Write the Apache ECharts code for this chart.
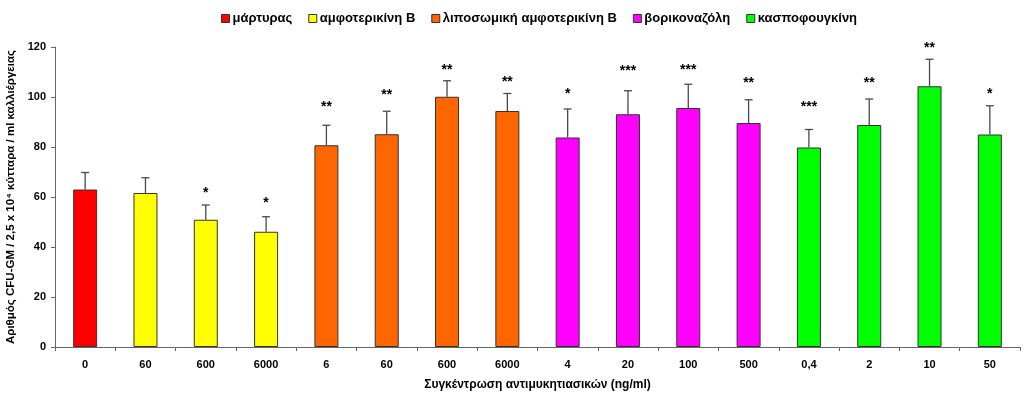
<!DOCTYPE html>
<html><head><meta charset="utf-8">
<script src="https://cdn.jsdelivr.net/npm/echarts@6/dist/echarts.min.js"></script>
<style>html,body{margin:0;padding:0;background:#fff}#c{width:1024px;height:394px}</style>
</head><body><div id="c"></div>
<script>
const categories = ['0','60','600','6000','6','60','600','6000','4','20','100','500','0,4','2','10','50'];
const groupNames = ['μάρτυρας','αμφοτερικίνη Β','λιποσωμική αμφοτερικίνη Β','βορικοναζόλη','κασποφουγκίνη'];
const groupColors = ['#FF0000','#FFFF00','#FF6600','#FF00FF','#00FF00'];
const groupOfBar = [0,1,1,1,2,2,2,2,3,3,3,3,4,4,4,4];
const means = [63.0,61.6,50.9,46.1,80.7,85.1,100.1,94.4,83.8,93.1,95.6,89.6,79.8,88.8,104.3,85.0];
const errors = [6.8,6.1,5.9,6.0,8.0,9.2,6.4,7.0,11.4,9.4,9.5,9.3,7.2,10.4,10.8,11.5];
const stars = ['','','*','*','**','**','**','**','*','***','***','**','***','**','**','*'];
const starY = [null,null,62.7,58.6,97.2,101.9,112,107,102.5,111.5,112,106.7,97.1,106.7,120.9,102.5];
const yTicks = [0,20,40,60,80,100,120];

const FONT = 'Liberation Sans, Arial, sans-serif';
const barSeries = groupNames.map((name, g) => ({
  name, type: 'bar', barWidth: 24, barGap: '-100%',
  itemStyle: {color: groupColors[g], borderColor: '#333', borderWidth: 1},
  data: means.map((v, i) => groupOfBar[i] === g ? v : null),
  z: 2
}));

const errData = means.map((v, i) => [i, v, errors[i]]);

const errSeries = {
  type: 'custom', name: 'err', z: 5, silent: true,
  renderItem: (params, api) => {
    const i = api.value(0), v = api.value(1), e = api.value(2);
    const p0 = api.coord([i, v]);
    const p1 = api.coord([i, v + e]);
    const children = [
      {type: 'line', shape: {x1: p0[0], y1: p0[1], x2: p1[0], y2: p1[1]}, style: {stroke: '#4a4a4a', lineWidth: 1.3}},
      {type: 'line', shape: {x1: p1[0]-4, y1: p1[1], x2: p1[0]+4, y2: p1[1]}, style: {stroke: '#4a4a4a', lineWidth: 1.3}}
    ];
    const s = stars[params.dataIndex];
    if (s) {
      const ps = api.coord([i, starY[params.dataIndex]]);
      children.push({type: 'text', x: ps[0], y: ps[1] + 3,
        style: {text: s, fill: '#000', font: 'bold 14px ' + FONT, align: 'center', verticalAlign: 'middle'}});
    }
    return {type: 'group', children};
  },
  encode: {x: 0, y: 1},
  data: errData
};

const chart = echarts.init(document.getElementById('c'), null, {renderer: 'canvas'});
chart.setOption({
  animation: false,
  backgroundColor: '#fff',
  legend: {
    data: groupNames, top: 7, left: 216, itemWidth: 8, itemHeight: 8, itemGap: 16,
    icon: 'rect',
    textStyle: {fontFamily: FONT, fontWeight: 'bold', fontSize: 13, color: '#000', padding: [0,0,0,-2]},
    itemStyle: {borderColor: '#333', borderWidth: 1}
  },
  grid: {left: 55, right: 4, top: 47, bottom: 47, containLabel: false, outerBoundsMode: 'none'},
  xAxis: {
    type: 'category', data: categories,
    name: 'Συγκέντρωση αντιμυκητιασικών (ng/ml)', nameLocation: 'middle', nameGap: 32,
    nameTextStyle: {fontFamily: FONT, fontWeight: 'bold', fontSize: 12, color: '#000'},
    axisLine: {lineStyle: {color: '#666'}},
    axisTick: {show: true, alignWithLabel: false, length: 4, lineStyle: {color: '#666'}},
    axisLabel: {fontFamily: FONT, fontWeight: 'bold', fontSize: 11, color: '#000', margin: 12, interval: 0}
  },
  yAxis: {
    type: 'value', min: 0, max: 120, interval: 20,
    name: 'Αριθμός CFU-GM / 2,5 x 10⁴ κύτταρα / ml καλλιέργειας', nameLocation: 'middle', nameGap: 37,
    nameTextStyle: {fontFamily: FONT, fontWeight: 'bold', fontSize: 11.5, color: '#000'},
    axisLine: {show: true, lineStyle: {color: '#666'}},
    axisTick: {show: true, length: 4, lineStyle: {color: '#666'}},
    splitLine: {show: false},
    axisLabel: {fontFamily: FONT, fontWeight: 'bold', fontSize: 11, color: '#000', margin: 9,
      formatter: v => yTicks.includes(v) ? String(v) : ''}
  },
  series: [...barSeries, errSeries]
});
</script></body></html>
